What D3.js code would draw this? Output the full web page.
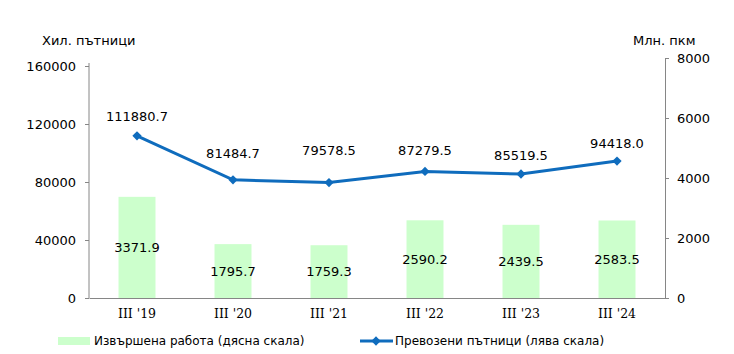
<!DOCTYPE html>
<html>
<head>
<meta charset="utf-8">
<script src="https://cdn.jsdelivr.net/npm/d3@7"></script>
<style>
  body { margin: 0; background: #fff; }
  text { font-family: "DejaVu Sans", Verdana, sans-serif; font-size: 13px; fill: #000; }
  .xlab text { font-family: "DejaVu Serif", serif; font-size: 12.5px; }
  .legend text { font-size: 12px; }
  .axis path, .axis line { stroke: #868686; }
</style>
</head>
<body>
<div id="chart"></div>
<script>
// data
var categories = ["III '19", "III '20", "III '21", "III '22", "III '23", "III '24"];
var work = [3371.9, 1795.7, 1759.3, 2590.2, 2439.5, 2583.5];           // right scale, mln. pkm
var passengers = [111880.7, 81484.7, 79578.5, 87279.5, 85519.5, 94418.0]; // left scale, thous.
var leftTicks = [0, 40000, 80000, 120000, 160000];
var rightTicks = [0, 2000, 4000, 6000, 8000];
var legendLabels = ["Извършена работа (дясна скала)", "Превозени пътници (лява скала)"];

// label offsets above the line points (layout, not data)
var lineLabelDy = [19, 26, 32, 21, 19, 18];

var width = 734, height = 354;
var left = 89, right = 665, bottom = 298;

var svg = d3.select("#chart").append("svg")
    .attr("width", width)
    .attr("height", height);

var x = d3.scaleBand()
    .domain(categories)
    .range([left, right])
    .paddingInner(0.615)
    .paddingOuter(0.3075);

var yLeft = d3.scaleLinear().domain([0, 160000]).range([bottom, 66]);
var yRight = d3.scaleLinear().domain([0, 8000]).range([bottom, 58]);

var blue = "#0f6cbd";
var green = "#ccffcc";

// bars
svg.append("g").selectAll("rect")
    .data(work)
    .enter().append("rect")
    .attr("x", function(d, i) { return x(categories[i]); })
    .attr("y", function(d) { return yRight(d); })
    .attr("width", x.bandwidth())
    .attr("height", function(d) { return bottom - yRight(d); })
    .attr("fill", green);

// axes
svg.append("g")
    .attr("class", "axis")
    .attr("transform", "translate(" + left + ",0)")
    .call(d3.axisLeft(yLeft).tickValues(leftTicks).tickSizeInner(4).tickSizeOuter(0).tickPadding(9).tickFormat(d3.format("d")))
    .call(function(g) { g.selectAll("text").style("font-size", "13px").style("font-family", "DejaVu Sans").attr("fill", "#000"); })
    .call(function(g) { g.select(".domain").attr("d", "M0,63V" + bottom); });

svg.append("g")
    .attr("class", "axis")
    .attr("transform", "translate(" + right + ",0)")
    .call(d3.axisRight(yRight).tickValues(rightTicks).tickSizeInner(4).tickSizeOuter(0).tickPadding(8).tickFormat(d3.format("d")))
    .call(function(g) { g.selectAll("text").style("font-size", "13px").style("font-family", "DejaVu Sans").attr("fill", "#000"); });

svg.append("g")
    .attr("class", "axis xlab")
    .attr("transform", "translate(0," + bottom + ")")
    .call(d3.axisBottom(x).tickSize(0).tickPadding(11))
    .call(function(g) { g.selectAll("text").attr("fill", "#000"); });

// bar labels
svg.append("g").selectAll("text")
    .data(work)
    .enter().append("text")
    .attr("x", function(d, i) { return x(categories[i]) + x.bandwidth() / 2; })
    .attr("y", function(d) { return (yRight(d) + bottom) / 2; })
    .attr("dy", "0.35em")
    .attr("text-anchor", "middle")
    .text(function(d) { return d.toFixed(1); });

// line
var cx = function(d, i) { return x(categories[i]) + x.bandwidth() / 2; };
var line = d3.line()
    .x(cx)
    .y(function(d) { return yLeft(d); });

svg.append("path")
    .datum(passengers)
    .attr("d", line)
    .attr("fill", "none")
    .attr("stroke", blue)
    .attr("stroke-width", 3);

var diamond = d3.symbol().type(d3.symbolDiamond2).size(55);

svg.append("g").selectAll("path")
    .data(passengers)
    .enter().append("path")
    .attr("d", diamond)
    .attr("transform", function(d, i) { return "translate(" + cx(d, i) + "," + yLeft(d) + ")"; })
    .attr("fill", blue);

svg.append("g").selectAll("text")
    .data(passengers)
    .enter().append("text")
    .attr("x", cx)
    .attr("y", function(d, i) { return yLeft(d) - lineLabelDy[i]; })
    .attr("dy", "0.35em")
    .attr("text-anchor", "middle")
    .text(function(d) { return d.toFixed(1); });

// axis titles
svg.append("text").attr("x", 42).attr("y", 45).text("Хил. пътници");
svg.append("text").attr("x", 633).attr("y", 45).text("Млн. пкм");

// legend
var legend = svg.append("g").attr("class", "legend");
legend.append("rect")
    .attr("x", 58).attr("y", 337)
    .attr("width", 32).attr("height", 8)
    .attr("fill", green);
legend.append("text").attr("x", 94).attr("y", 341).attr("dy", "0.35em").text(legendLabels[0]);

legend.append("line")
    .attr("x1", 360).attr("x2", 393)
    .attr("y1", 341).attr("y2", 341)
    .attr("stroke", blue).attr("stroke-width", 3);
legend.append("path")
    .attr("d", diamond)
    .attr("transform", "translate(376,341)")
    .attr("fill", blue);
legend.append("text").attr("x", 395).attr("y", 341).attr("dy", "0.35em").text(legendLabels[1]);
</script>
</body>
</html>
